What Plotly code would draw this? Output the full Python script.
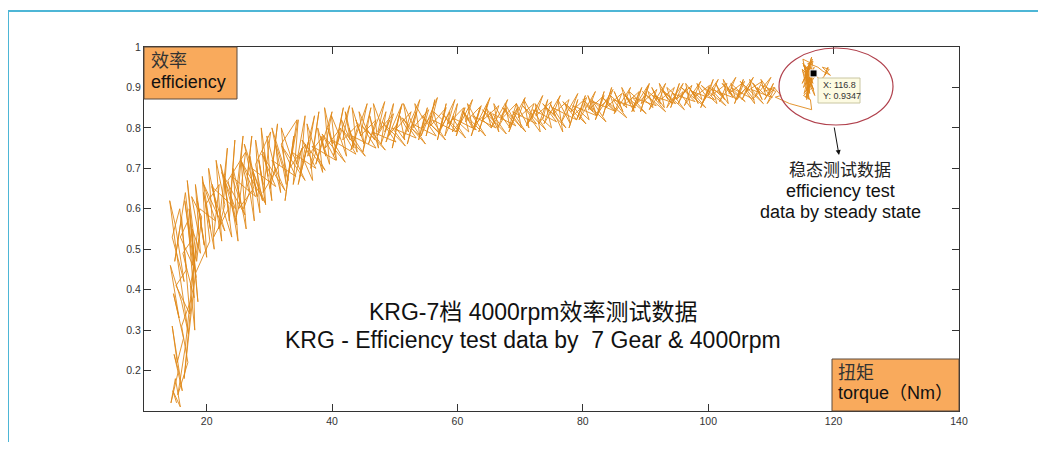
import plotly.graph_objects as go

# ---- data (torque Nm, efficiency) ----
start_torque = [15.2,14.6,15.8,15.0,14.3,15.5,14.8,16.1,14.5,15.3,16.3,14.7,15.6,14.2,16.0,17.1,15.2,14.1,15.0,16.4,
                14.5,15.7,16.8,15.1,17.3,16.0,14.9,16.6,17.5,16.2,18.0,17.0,15.8,17.8,16.5,18.3,17.2,18.6,17.9,16.9,
                18.4,19.2,17.6,18.8,17.4,18.1,17.7,19.0,18.2,19.6,18.5,20.0,19.3]
start_eff = [0.12,0.15,0.11,0.18,0.12,0.20,0.24,0.15,0.31,0.22,0.28,0.39,0.33,0.46,0.37,0.29,0.49,0.62,0.56,0.42,
             0.53,0.60,0.45,0.41,0.34,0.58,0.47,0.64,0.52,0.49,0.38,0.57,0.53,0.46,0.62,0.43,0.60,0.37,0.50,0.67,
             0.47,0.58,0.63,0.53,0.41,0.30,0.55,0.49,0.66,0.51,0.62,0.48,0.68]

rise_torque = [20.6,19.5,21.2,20.3,21.8,20.9,22.4,21.5,22.9,21.9,23.3,22.6,24.0,22.8,23.6,24.5,23.8,25.0,24.2,25.4,
               24.7,25.8,24.9,26.3,25.5,26.8,25.9,27.2,26.5,27.6,26.9,28.1,27.3,28.5,27.8,29.0,28.3,29.4,28.7,29.8,
               29.1,30.4,29.6,30.9,30.1,31.3,30.6,31.8,31.0,32.2]
rise_eff = [0.55,0.64,0.50,0.70,0.58,0.66,0.52,0.72,0.61,0.55,0.75,0.60,0.53,0.68,0.57,0.77,0.63,0.52,0.70,0.62,
            0.58,0.78,0.66,0.55,0.72,0.64,0.60,0.78,0.68,0.57,0.73,0.63,0.69,0.59,0.77,0.66,0.72,0.61,0.80,0.68,
            0.74,0.62,0.78,0.70,0.65,0.81,0.72,0.64,0.76,0.70]

mid_torque = [32.7,31.9,33.4,32.5,33.9,33.1,34.6,33.8,35.2,34.3,35.7,34.9,36.3,35.5,36.9,36.0,37.4,36.6,37.9,37.1,
              38.5,37.7,39.0,38.2,39.6,38.8,40.1,39.3,40.7,39.9,41.2,40.4,41.8,41.0,42.3,41.5,42.9,42.1,43.5,42.7,
              44.0,43.2,44.6,43.8,45.1,44.3,45.7,44.9,46.2]
mid_eff = [0.66,0.80,0.73,0.62,0.78,0.69,0.82,0.66,0.75,0.71,0.83,0.68,0.77,0.72,0.67,0.81,0.74,0.70,0.84,0.76,
           0.69,0.80,0.73,0.78,0.71,0.85,0.76,0.80,0.72,0.83,0.78,0.74,0.85,0.79,0.73,0.82,0.77,0.84,0.75,0.80,
           0.74,0.85,0.78,0.82,0.76,0.84,0.79,0.74,0.85]

plateau_torque = [45.4,46.8,46.0,47.4,46.6,48.0,47.2,48.6,47.8,49.2,48.4,49.8,49.0,50.4,49.6,51.0,50.2,51.6,50.8,52.2,
                  51.4,52.8,52.0,53.4,52.6,54.0,53.2,54.6,53.8,55.2,54.4,55.8,55.0,56.4,55.6,57.0,56.2,57.6,56.8,58.2,
                  57.4,58.8,58.0,59.4,58.6,60.0,59.2,60.6,59.8,61.2,60.4,61.8,61.0,62.4,61.6,63.0,62.2,63.6,62.8,64.2,
                  63.4,64.8,64.0,65.4,64.6,66.0,65.2,66.6,65.8,67.2,66.4,67.8,67.0,68.4,67.6,69.0,68.2,69.6,68.8,70.2,
                  69.4,70.8,70.0,71.4,70.6,72.0,71.2,72.6,71.8,73.2,72.4,73.8,73.0,74.4,73.6,75.0,74.2,75.6,74.8,76.2,
                  75.4,76.8,76.0,77.4,76.6,78.0,77.2,78.6,77.8,79.2,78.4,79.8,79.0,80.4]
plateau_eff = [0.80,0.77,0.83,0.75,0.86,0.80,0.78,0.84,0.76,0.82,0.79,0.86,0.78,0.81,0.75,0.85,0.80,0.77,0.83,0.79,
               0.86,0.81,0.76,0.84,0.80,0.78,0.86,0.82,0.77,0.85,0.80,0.83,0.78,0.87,0.81,0.79,0.84,0.82,0.77,0.86,
               0.80,0.84,0.78,0.83,0.80,0.86,0.79,0.82,0.78,0.85,0.81,0.79,0.84,0.80,0.86,0.82,0.78,0.85,0.81,0.83,
               0.79,0.86,0.82,0.80,0.85,0.81,0.84,0.79,0.86,0.82,0.80,0.85,0.83,0.80,0.86,0.82,0.79,0.85,0.83,0.80,
               0.86,0.82,0.84,0.80,0.87,0.83,0.81,0.85,0.82,0.79,0.86,0.83,0.81,0.87,0.82,0.80,0.85,0.83,0.86,0.81,
               0.84,0.79,0.87,0.83,0.85,0.81,0.86,0.84,0.80,0.87,0.83,0.85,0.82,0.88]

upper_torque = [79.6,81.0,80.2,81.6,80.8,82.2,81.4,82.8,82.0,83.4,82.6,84.0,83.2,84.6,83.8,85.2,84.4,85.8,85.0,86.4,
                85.6,87.0,86.2,87.6,86.8,88.2,87.4,88.8,88.0,89.4,88.6,90.0,89.2,90.6,89.8,91.2,90.4,91.8,91.0,92.4,
                91.6,93.0,92.2,93.6,92.8,94.2,93.4,94.8,94.0,95.4,94.6,96.0,95.2,96.6,95.8,97.2,96.4,97.8,97.0,98.4,
                97.6,99.0,98.2,99.6,98.8,100.2,99.4,100.8,100.0,101.4,100.6,102.0,101.2,102.6,101.8,103.2,102.4,103.8,
                103.0,104.4,103.6,105.0,104.2,105.6,104.8,106.2,105.4,106.8,106.0,107.4,106.6,108.0,107.2,108.6,107.8,
                109.2,108.4,109.8,109.0,110.4,109.6,110.6,109.4,110.8]
upper_eff = [0.84,0.82,0.86,0.84,0.88,0.83,0.87,0.85,0.82,0.89,0.85,0.87,0.83,0.90,0.86,0.84,0.88,0.86,0.89,0.84,
             0.87,0.85,0.90,0.86,0.88,0.84,0.89,0.87,0.85,0.90,0.86,0.88,0.84,0.91,0.87,0.85,0.89,0.87,0.90,0.86,
             0.88,0.85,0.91,0.87,0.89,0.86,0.90,0.88,0.85,0.91,0.87,0.89,0.86,0.90,0.88,0.85,0.91,0.88,0.90,0.86,
             0.89,0.87,0.91,0.88,0.85,0.90,0.87,0.92,0.88,0.86,0.90,0.88,0.91,0.87,0.89,0.86,0.92,0.88,
             0.90,0.87,0.91,0.89,0.86,0.92,0.88,0.90,0.87,0.91,0.89,0.86,0.92,0.89,0.91,0.87,0.90,
             0.88,0.92,0.89,0.87,0.91,0.88,0.90,0.86,0.89]

back_torque = [108.5,110.2,106.9,108.8,105.1,107.3,103.6,105.9,102.2,104.0,100.5,102.8,98.9,101.0,97.4,99.6,95.7,97.9,
               94.3,96.2,92.6,94.8,91.1,93.2,89.5,91.7,87.9,90.1,86.4,88.4,84.8,87.0,83.1,85.3,81.6,83.7,80.0,82.2,
               78.4,80.5,76.8,79.0,75.2,77.3,73.6,75.8,72.0,74.1,70.4,72.6,68.8,70.9,67.2,69.3,65.6,67.8,64.0,66.1,
               62.4,64.5,60.8,63.0,59.2,61.3,57.6,59.8,56.0,58.1,54.4,56.6,52.8,54.9,51.2,53.4,49.6,51.7,48.0,50.2,
               46.4,48.5,44.8,47.0,43.2,45.3,41.6,43.8,40.0,42.1,38.4,40.6,36.8,38.9,35.2,37.4,33.6,35.7,32.0,34.2,
               30.4,32.5,28.8,31.0,27.2,29.3,25.6,27.8,24.0,26.1,22.4,24.6,20.8,22.9,19.4,21.4,18.9,16.6,15.4,17.0,
               16.0,17.6,16.4,18.2]
back_eff = [0.905,0.875,0.895,0.86,0.915,0.87,0.90,0.865,0.91,0.875,0.895,0.855,0.905,0.87,0.89,0.85,0.90,0.865,
            0.885,0.845,0.895,0.86,0.88,0.84,0.89,0.855,0.875,0.835,0.885,0.85,0.87,0.825,0.875,0.84,0.865,0.815,
            0.87,0.83,0.855,0.81,0.865,0.82,0.85,0.80,0.86,0.815,0.845,0.795,0.855,0.81,0.84,0.79,0.85,0.805,
            0.835,0.785,0.845,0.80,0.83,0.78,0.84,0.795,0.825,0.775,0.835,0.79,0.82,0.77,0.83,0.78,0.81,0.76,
            0.825,0.775,0.80,0.755,0.815,0.765,0.79,0.745,0.805,0.75,0.78,0.73,0.795,0.735,0.77,0.715,0.785,0.72,
            0.755,0.695,0.77,0.70,0.74,0.67,0.755,0.68,0.72,0.645,0.735,0.655,0.70,0.615,0.715,0.63,0.68,0.585,
            0.69,0.60,0.655,0.545,0.665,0.57,0.60,0.26,0.14,0.22,0.31,0.38,0.18,0.44]

fwd_torque = [20.5,19.8,22.0,21.1,23.5,22.2,24.8,23.4,26.2,25.1,27.5,26.0,28.9,27.8,30.2,29.0,31.6,30.4,33.0,31.9,
              34.4,33.2,35.8,34.6,37.2,36.1,38.6,37.4,40.0,38.9,41.4,40.2,42.8,41.7,44.2,43.0,45.6,44.5,47.0,45.8,
              48.4,47.3,49.8,48.6,51.2,50.1,52.6,51.4,54.0,52.9,55.4,54.2,56.8,55.7,58.2,57.0,59.6,58.5,61.0,59.8,
              62.4,61.3,63.8,62.6,65.2,64.1,66.6,65.4,68.0,66.9,69.4,68.2,70.8,69.7,72.2,71.0,73.6,72.5,75.0,73.8,
              76.4,75.3,77.8,76.6,79.2,78.1,80.6,79.4,82.0,80.9,83.4,82.2,84.8,83.7,86.2,85.0,87.6,86.5,89.0,87.8,
              90.4,89.3,91.8,90.6,93.2,92.1,94.6,93.4,96.0,94.9,97.4,96.2,98.8,97.7,100.2,99.0,101.6,100.5,103.0,
              101.8,104.4,103.3,105.8,104.6,107.2,106.1,108.6,107.4,110.0,108.9,110.5]
fwd_eff = [0.52,0.61,0.66,0.53,0.60,0.71,0.56,0.67,0.74,0.60,0.65,0.76,0.62,0.71,0.79,0.64,0.71,0.80,0.67,0.76,
           0.82,0.70,0.76,0.66,0.83,0.73,0.78,0.71,0.84,0.75,0.80,0.73,0.855,0.77,0.81,0.745,0.86,0.78,0.82,0.76,
           0.865,0.79,0.835,0.765,0.86,0.795,0.84,0.775,0.87,0.80,0.845,0.78,0.875,0.805,0.85,0.785,0.87,0.81,0.85,0.79,
           0.87,0.815,0.855,0.795,0.875,0.82,0.855,0.80,0.87,0.82,0.86,0.80,0.875,0.825,0.86,0.805,0.88,0.83,0.865,0.81,
           0.88,0.835,0.87,0.815,0.885,0.84,0.875,0.82,0.89,0.845,0.88,0.83,0.895,0.85,0.885,0.835,0.90,0.855,0.89,0.84,
           0.905,0.86,0.895,0.845,0.91,0.865,0.90,0.85,0.91,0.87,0.905,0.855,0.915,0.875,0.905,0.86,0.92,0.88,0.91,
           0.865,0.925,0.885,0.915,0.87,0.925,0.89,0.915,0.875,0.925,0.89,0.90]

steady_torque = [111.6,110.7,113.0,116.5,116.3,115.2,116.6,115.4,116.2,115.1,116.4,115.3,116.9,115.6,116.4,115.1,
                 116.7,115.8,117.0,115.5,116.5,115.2,116.8,115.7,116.3,115.0,116.6,115.3,116.9,115.4,116.2,115.1,
                 116.7,115.6,116.4,115.2,116.8,115.5,116.1,115.0,116.6,115.9,117.5,118.3,119.5,118.2,119.3,118.6,
                 119.1,118.4,117.8,116.8]
steady_eff = [0.88,0.876,0.86,0.845,0.87,0.88,0.90,0.94,0.885,0.97,0.96,0.92,0.95,0.89,0.93,0.96,
              0.91,0.95,0.88,0.93,0.975,0.90,0.94,0.87,0.95,0.91,0.97,0.885,0.925,0.955,0.90,0.94,
              0.965,0.875,0.915,0.955,0.895,0.935,0.87,0.945,0.92,0.96,0.95,0.94,0.93,0.95,0.945,0.93,
              0.95,0.925,0.92,0.9347]

tip_torque = [116.8]
tip_eff = [0.9347]

torque = start_torque + rise_torque + mid_torque + plateau_torque + upper_torque + back_torque + fwd_torque + steady_torque
efficiency = start_eff + rise_eff + mid_eff + plateau_eff + upper_eff + back_eff + fwd_eff + steady_eff

x_ticks = [20, 40, 60, 80, 100, 120, 140]
y_ticks = [0.2, 0.3, 0.4, 0.5, 0.6, 0.7, 0.8, 0.9, 1.0]
y_tick_text = ["0.2", "0.3", "0.4", "0.5", "0.6", "0.7", "0.8", "0.9", "1"]

# ---- layout geometry (page pixels; the page body adds an 8px offset) ----
OFF = 8
W, H = 1046 - 2 * OFF, 450 - 2 * OFF
L, R, T, B = 144, 959, 47, 411   # plot area in page pixels


def px(x):
    return (x - L) / (R - L)


def py(y):
    return (B - y) / (B - T)


FONT = "Liberation Sans, Arial, Noto Sans CJK SC, sans-serif"

fig = go.Figure()
fig.add_trace(go.Scatter(x=torque, y=efficiency, mode="lines",
                         line=dict(color="#E0891A", width=0.9), hoverinfo="skip"))
fig.add_trace(go.Scatter(x=tip_torque, y=tip_eff, mode="markers",
                         marker=dict(symbol="square", size=7, color="black",
                                     line=dict(color="white", width=1)), hoverinfo="skip"))

shapes = []
shapes.append(dict(type="line", xref="paper", yref="paper", x0=px(8), x1=px(1046), y0=py(11), y1=py(11),
                   line=dict(color="#4DB6D6", width=2)))
shapes.append(dict(type="line", xref="paper", yref="paper", x0=px(8), x1=px(8), y0=py(11), y1=py(450),
                   line=dict(color="#4DB6D6", width=2)))
shapes.append(dict(type="rect", xref="paper", yref="paper", x0=px(144), x1=px(237), y0=py(99), y1=py(47),
                   fillcolor="#F9AA5C", line=dict(color="#5A4A3E", width=1)))
shapes.append(dict(type="rect", xref="paper", yref="paper", x0=px(832), x1=px(959), y0=py(411), y1=py(359),
                   fillcolor="#F9AA5C", line=dict(color="#5A4A3E", width=1)))
shapes.append(dict(type="circle", xref="paper", yref="paper", x0=px(779), x1=px(893), y0=py(125), y1=py(48),
                   line=dict(color="#B0404C", width=1.2)))
shapes.append(dict(type="rect", xref="paper", yref="paper", x0=px(818), x1=px(860), y0=py(103), y1=py(78),
                   fillcolor="#FDFBE2", line=dict(color="#C9C6A2", width=1)))

ann = []


def text(x, y, s, size, anchor="center", color="#111"):
    ann.append(dict(xref="paper", yref="paper", x=px(x), y=py(y), text=s, showarrow=False,
                    xanchor=anchor, yanchor="middle", font=dict(family=FONT, size=size, color=color)))


text(149, 61, "效率", 18, "left", "#333")
text(149, 82, "efficiency", 18, "left")
text(836, 373, "扭矩", 18, "left", "#333")
text(836, 393, "torque（Nm）", 18, "left")
text(840, 170, "稳态测试数据", 17, "center", "#222")
text(840, 191, "efficiency test", 18)
text(840, 212, "data by steady state", 18)
text(533, 312, "KRG-7档 4000rpm效率测试数据", 23)
text(533, 340, "KRG - Efficiency test data by  7 Gear &amp; 4000rpm", 23)
text(821, 85, "X: 116.8", 9, "left", "#333")
text(821, 96, "Y: 0.9347", 9, "left", "#333")
ann.append(dict(xref="paper", yref="paper", x=px(839), y=py(155), ax=-5, ay=-29, text="",
                showarrow=True, arrowhead=2, arrowsize=1, arrowwidth=1, arrowcolor="#111"))

fig.update_layout(
    width=W, height=H,
    margin=dict(l=L - OFF, r=W - (R - OFF), t=T - OFF, b=H - (B - OFF), pad=0),
    paper_bgcolor="white", plot_bgcolor="white",
    showlegend=False,
    shapes=shapes, annotations=ann,
    font=dict(family=FONT, size=11, color="#333"),
    xaxis=dict(range=[10, 140], tickvals=x_ticks, ticks="inside", ticklen=7, tickcolor="#333",
               showline=True, linecolor="#333", linewidth=1, mirror="ticks", showgrid=False, zeroline=False,
               tickfont=dict(size=10.5, color="#333")),
    yaxis=dict(range=[0.1, 1.0], tickvals=y_ticks, ticktext=y_tick_text, ticks="inside", ticklen=7,
               tickcolor="#333", showline=True, linecolor="#333", linewidth=1, mirror="ticks",
               showgrid=False, zeroline=False, tickfont=dict(size=10.5, color="#333")),
)

fig.write_html("out.html")
